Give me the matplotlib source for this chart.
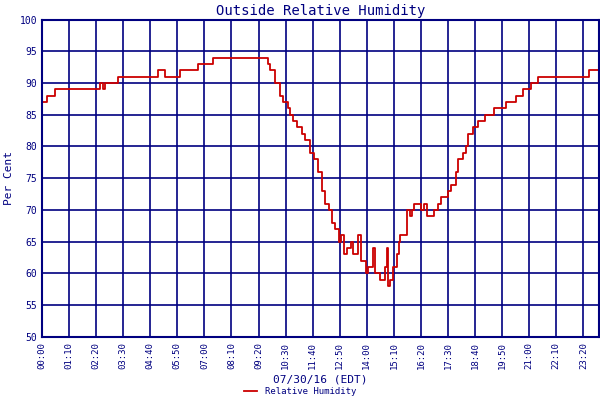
import matplotlib
matplotlib.use("Agg")
import matplotlib.pyplot as plt

plt.rcParams['font.family'] = ['DejaVu Sans Mono']

minutes = [0, 13, 34, 137, 150, 158, 163, 197, 300, 319, 357, 404, 443, 570, 585,
           590, 603, 616, 624, 635, 642, 650, 660, 673, 681, 694, 704, 715, 725, 733,
           741, 751, 759, 767, 772, 780, 790, 798, 805, 816, 824, 837, 844, 855, 862,
           875, 886, 891, 896, 901, 909, 917, 922, 927, 945, 951, 956, 961, 979, 987,
           995, 1013, 1023, 1033, 1049, 1059, 1070, 1077, 1088, 1096, 1103, 1114, 1127,
           1145, 1168, 1199, 1225, 1243, 1264, 1282, 1331, 1414, 1419, 1440]
humidity = [87, 88, 89, 89, 90, 89, 90, 91, 92, 91, 92, 93, 94, 94, 93,
            92, 90, 88, 87, 86, 85, 84, 83, 82, 81, 79, 78, 76, 73, 71,
            70, 68, 67, 65, 66, 63, 64, 65, 63, 66, 62, 60, 61, 64, 60,
            59, 61, 64, 58, 59, 61, 63, 65, 66, 70, 69, 70, 71, 70, 71,
            69, 70, 71, 72, 73, 74, 76, 78, 79, 80, 82, 83, 84,
            85, 86, 87, 88, 89, 90, 91, 91, 92, 92, 92]
tick_labels = ["00:00", "01:10", "02:20", "03:30", "04:40", "05:50", "07:00",
               "08:10", "09:20", "10:30", "11:40", "12:50", "14:00", "15:10",
               "16:20", "17:30", "18:40", "19:50", "21:00", "22:10", "23:20"]
navy = '#000080'

fig = plt.figure(figsize=(6, 4), dpi=100)
ax = fig.add_axes([0.07, 0.158, 0.928, 0.793])
ax.plot(minutes, humidity, color='#cc0000', lw=1.3, drawstyle='steps-post',
        label='Relative Humidity')
ax.set_xlim(0, 1440)
ax.set_ylim(50, 100)
ticks = [i * 70 for i in range(len(tick_labels))]
ax.set_xticks(ticks)
ax.set_xticklabels(tick_labels, rotation=90, fontsize=6.5, color=navy)
ax.set_yticks(range(50, 101, 5))
ax.tick_params(axis='y', labelsize=7, colors=navy, length=0)
ax.tick_params(axis='x', colors=navy, length=0)
ax.grid(True, color=navy, lw=1.2)
for s in ax.spines.values():
    s.set_color(navy)
    s.set_linewidth(1.5)
ax.set_title('Outside Relative Humidity', color=navy, fontsize=10, pad=3)
ax.set_ylabel('Per Cent', color=navy, fontsize=8)
ax.set_xlabel('07/30/16 (EDT)', color=navy, fontsize=8, labelpad=4)
leg = fig.legend(loc='lower center', bbox_to_anchor=(0.5, -0.01), frameon=False,
                 fontsize=6.5, handlelength=1.5)
for t in leg.get_texts():
    t.set_color(navy)
fig.savefig('out.png')
